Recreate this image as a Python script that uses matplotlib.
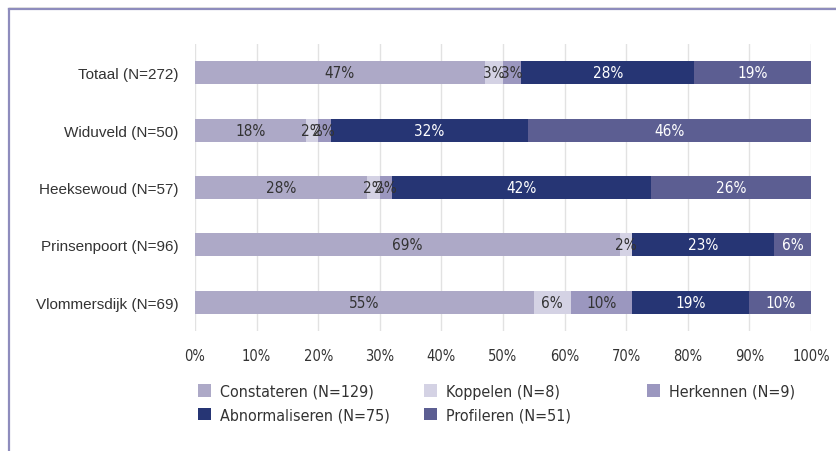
import numpy as np
import matplotlib.pyplot as plt
from matplotlib import font_manager
from matplotlib.patches import Patch
from matplotlib.lines import Line2D

# data
groups = ['Totaal (N=272)', 'Widuveld (N=50)', 'Heeksewoud (N=57)',
          'Prinsenpoort (N=96)', 'Vlommersdijk (N=69)']
series = ['Constateren (N=129)', 'Koppelen (N=8)', 'Herkennen (N=9)',
          'Abnormaliseren (N=75)', 'Profileren (N=51)']
constateren = [47, 18, 28, 69, 55]
koppelen = [3, 2, 2, 2, 6]
herkennen = [3, 2, 2, 0, 10]
abnormaliseren = [28, 32, 42, 23, 19]
profileren = [19, 46, 26, 6, 10]
values = [constateren, koppelen, herkennen, abnormaliseren, profileren]

colors = ['#ada9c7', '#d4d2e4', '#9b97bf', '#263574', '#5c5e92']
text_colors = ['#333333', '#333333', '#333333', 'white', 'white']

plt.rcParams['font.family'] = ['Liberation Sans', 'DejaVu Sans']

# pick a condensed face if one is installed
fonts = font_manager.fontManager.ttflist
names = {f.name for f in fonts}
if 'Liberation Sans Narrow' in names:
    cond = dict(family='Liberation Sans Narrow', stretch='normal')
    scale = 1.1
elif any(f.name == 'DejaVu Sans' and f.stretch == 'condensed' for f in fonts):
    cond = dict(family='DejaVu Sans', stretch='condensed')
    scale = 1.0
else:
    cond = dict(family='Liberation Sans', stretch='normal')
    scale = 1.0

def fp(size):
    return font_manager.FontProperties(size=size*scale, **cond)

fig = plt.figure(figsize=(8.36, 4.52), dpi=100)
ax = fig.add_axes([195/836, 1-332/452, 616/836, 287/452])

y = np.arange(len(groups))
left = np.zeros(len(groups))
handles = []
for vals, col, tc, name in zip(values, colors, text_colors, series):
    vals = np.array(vals, dtype=float)
    ax.barh(y, vals, left=left, height=0.4, color=col, edgecolor='none', zorder=2)
    for yi, v, l in zip(y, vals, left):
        if v > 0:
            ax.text(l + v/2, yi, f'{int(v)}%', ha='center', va='center',
                    color=tc, fontproperties=fp(11), zorder=3)
    left += vals
    handles.append(Patch(facecolor=col, edgecolor='none', label=name))

ax.set_xlim(0, 100)
ax.set_ylim(len(groups)-0.5, -0.5)
ax.set_yticks(y)
ax.set_yticklabels(groups, fontsize=11, color='#333333')
ax.set_xticks(np.arange(0, 101, 10))
ax.set_xticklabels([f'{t}%' for t in range(0, 101, 10)], color='#333333')
for lab in ax.get_xticklabels():
    lab.set_fontproperties(fp(10.5))
ax.tick_params(axis='y', length=0, pad=12)
ax.tick_params(axis='x', length=0, pad=12)
ax.grid(axis='x', color='#e2e2e2', linewidth=1, zorder=0)
for s in ax.spines.values():
    s.set_visible(False)

# legend in three columns
cols = [[0, 3], [1, 4], [2]]
xpos = [190/836, 416/836, 639/836]
for idx, xp in zip(cols, xpos):
    leg = fig.legend(handles=[handles[i] for i in idx], loc='upper left',
                     bbox_to_anchor=(xp, 1-377/452), frameon=False,
                     borderpad=0, handlelength=0.8, handleheight=0.8,
                     handletextpad=0.6, labelspacing=0.55, prop=fp(11.5))
    for t in leg.get_texts():
        t.set_color('#333333')

# outer frame
fig.add_artist(Line2D([8.5/836, 8.5/836], [0, 1-9.5/452], color='#8e8cbd', lw=1.6))
fig.add_artist(Line2D([8.5/836, 1], [1-9.5/452, 1-9.5/452], color='#8e8cbd', lw=1.6))
fig.add_artist(Line2D([8.5/836, 1], [1-8/452, 1-8/452], color='#d8d8d8', lw=0.6))

fig.savefig('out.png', dpi=100)
